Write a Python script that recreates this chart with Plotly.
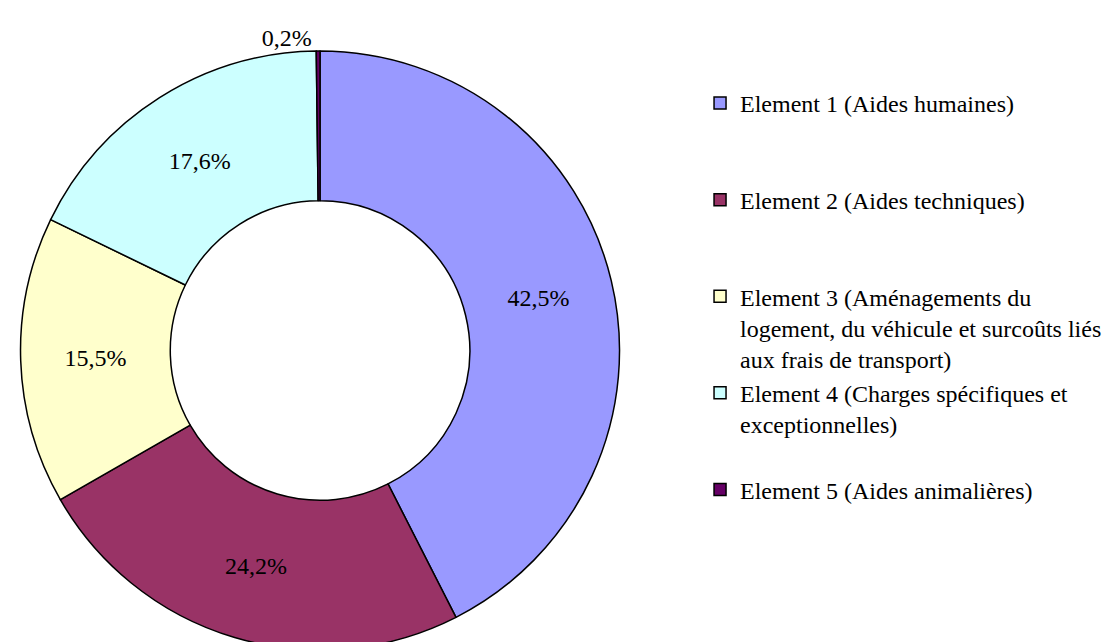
import plotly.graph_objects as go

categories = [
    "Element 1 (Aides humaines)",
    "Element 2 (Aides techniques)",
    "Element 3 (Aménagements du<br>logement, du véhicule et surcoûts liés<br>aux frais de transport)",
    "Element 4 (Charges spécifiques et<br>exceptionnelles)",
    "Element 5 (Aides animalières)",
]
values = [42.5, 24.2, 15.5, 17.6, 0.2]
colors = ["#9999FF", "#993366", "#FFFFCC", "#CCFFFF", "#660066"]
text_positions = ["inside", "inside", "inside", "inside", "outside"]

# pad each legend entry to three lines so entries are evenly spaced
def pad(label, n=3):
    lines = label.count("<br>") + 1
    return label + "<br> " * (n - lines)

legend_labels = [pad(c) for c in categories]

FONT = "Liberation Serif, Times New Roman, serif"

fig = go.Figure(
    go.Pie(
        labels=legend_labels,
        values=values,
        hole=0.5,
        sort=False,
        direction="clockwise",
        rotation=0,
        marker=dict(colors=colors, line=dict(color="black", width=1.5)),
        texttemplate="%{value:.1f}%",
        textposition=text_positions,
        insidetextorientation="horizontal",
        textfont=dict(family=FONT, size=24, color="black"),
        domain=dict(x=[0.0, 0.5617], y=[0, 1]),
        hovertemplate="%{label}: %{value:.1f}%<extra></extra>",
    )
)

fig.update_layout(
    width=1111,
    height=642,
    margin=dict(l=0, r=0, t=43, b=0, autoexpand=False),
    paper_bgcolor="white",
    plot_bgcolor="white",
    separators=", ",
    font=dict(family=FONT, size=24, color="black"),
    showlegend=True,
    legend=dict(
        x=0.6229,
        xanchor="left",
        y=0.95,
        yanchor="top",
        valign="top",
        font=dict(family=FONT, size=24, color="black"),
        bgcolor="rgba(0,0,0,0)",
        traceorder="normal",
    ),
)

fig.write_html("out.html")
